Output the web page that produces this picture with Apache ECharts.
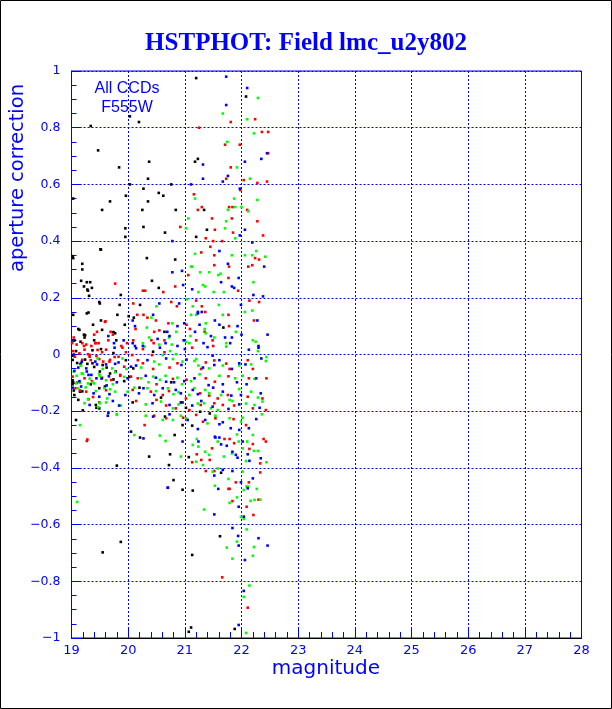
<!DOCTYPE html>
<html>
<head>
<meta charset="utf-8">
<script src="https://cdn.jsdelivr.net/npm/echarts@6/dist/echarts.min.js"></script>
<style>
html,body{margin:0;padding:0;background:#fff;}
#chart{width:612px;height:709px;}
</style>
</head>
<body>
<div id="chart"></div>
<script>
const titleText = "HSTPHOT: Field lmc_u2y802";
const xName = "magnitude";
const yName = "aperture correction";
const noteLines = ["All CCDs", "F555W"];
const xTicks = [19,20,21,22,23,24,25,26,27,28];
const yTicks = [-1,-0.8,-0.6,-0.4,-0.2,0,0.2,0.4,0.6,0.8,1];

const blackPts = [
[21.20,0.975],[22.08,0.91],[20.03,0.84],[20.19,0.82],[19.34,0.806],[19.47,0.72],[20.37,0.68],[21.23,0.69],[21.18,0.68],[19.84,0.66],[20.35,0.62],[20.03,0.60],[20.76,0.60],[19.96,0.56],[20.27,0.585],[20.54,0.57],[20.62,0.56],[19.03,0.55],[19.68,0.54],[20.35,0.54],[21.34,0.51],[20.25,0.51],[19.54,0.51],[20.84,0.51],[19.95,0.445],[20.27,0.45],[20.65,0.43],[21.39,0.44],[19.95,0.415],[21.20,0.415],[19.52,0.37],[20.33,0.34],[20.83,0.335],[19.03,0.34],[19.19,0.32],[19.19,0.30],[19.17,0.26],[19.33,0.255],[20.42,0.26],[19.22,0.24],[19.36,0.235],[20.54,0.235],[19.29,0.225],[19.87,0.21],[19.50,0.18],[19.85,0.175],[20.21,0.175],[19.03,0.14],[19.27,0.145],[20.01,0.135],[19.52,0.12],[20.10,0.13],[19.38,0.105],[19.94,0.105],[20.64,0.08],[21.68,0.095],[19.77,0.075],[19.12,0.09],[19.22,0.07],[19.04,0.05],[19.23,0.06],[19.40,0.05],[19.79,0.05],[19.14,0.087],[19.54,0.087],[19.74,0.079],[19.05,0.05],[19.16,0.045],
[19.51,0.371],[19.02,0.347],[19.27,0.255],[19.28,0.229],[19.31,0.207],[19.49,0.185],[19.30,0.148],[19.81,0.14],[19.24,0.068],
[19.08,0.012],[19.37,0.015],[19.52,0.019],[19.74,0.005],[20.44,0.01],[19.02,-0.004],[19.96,-0.02],[20.09,-0.049],[19.55,-0.037],[19.24,-0.018],[19.37,-0.031],[19.03,-0.098],[19.34,-0.105],[20.02,-0.079],[19.93,-0.094],[20.76,-0.098],[19.15,-0.131],[19.05,-0.143],[19.49,-0.119],[20.20,-0.117],[20.58,-0.152],[19.49,-0.19],[19.43,-0.178],[20.08,-0.169],[20.93,-0.169],[21.02,-0.188],[19.20,-0.197],
[19.02,-0.019],[19.10,-0.03],[19.16,-0.033],[19.28,-0.033],[19.40,-0.044],[19.50,-0.06],[19.62,-0.046],[19.78,-0.06],[19.02,-0.091],[19.02,-0.105],[19.04,-0.127],[19.19,-0.13],[19.12,-0.16],[19.44,-0.188],[19.59,-0.113],[19.68,-0.067],[19.74,-0.088],
[19.08,-0.231],[20.05,-0.272],[20.21,-0.293],[20.65,-0.219],[20.82,-0.284],[20.96,-0.249],[21.13,-0.251],[21.27,-0.202],[21.44,-0.208],[20.37,-0.36],[20.74,-0.352],[19.80,-0.392],[20.72,-0.39],[21.07,-0.362],[20.80,-0.443],[21.64,-0.417],[20.70,-0.47],
[20.96,-0.477],[21.14,-0.48],[21.62,-0.641],[19.87,-0.661],[19.55,-0.698],[21.13,-0.707],[21.11,-0.963],[21.07,-0.978],[21.88,-0.968]
];

const redPts = [
[22.24,0.83],[21.81,0.82],[21.25,0.80],[22.36,0.785],[22.47,0.785],[21.71,0.74],[21.97,0.74],[22.47,0.71],[21.81,0.66],[21.73,0.62],[22.04,0.615],[22.28,0.605],[22.45,0.61],[21.98,0.58],[21.16,0.565],[21.30,0.52],[21.23,0.51],[21.84,0.52],[21.78,0.52],[22.10,0.51],[21.48,0.48],[21.83,0.48],[22.28,0.47],[20.92,0.45],[21.53,0.44],[21.37,0.41],[21.85,0.43],[22.38,0.42],[21.50,0.40],[21.66,0.40],[21.45,0.38],[21.29,0.36],[21.52,0.35],[22.24,0.34],[22.31,0.335],[21.52,0.315],[21.78,0.31],[22.12,0.31],[22.19,0.315],[21.06,0.28],[21.77,0.27],[19.77,0.25],[20.83,0.24],[20.26,0.225],[20.30,0.225],[20.62,0.22],[21.94,0.225],[20.09,0.18],[20.76,0.185],[20.86,0.17],[21.20,0.19],[21.30,0.17],[22.14,0.19],[22.31,0.185],[20.16,0.14],[20.27,0.14],[20.34,0.13],[21.36,0.15],[21.77,0.14],[22.22,0.12],[20.49,0.12],[20.71,0.11],[21.03,0.105],[21.78,0.10],[19.59,0.115],[20.13,0.09],[20.46,0.08],[20.55,0.085],[21.09,0.09],[21.35,0.08],[19.69,0.08],[19.73,0.07],[19.98,0.04],[20.09,0.05],[20.41,0.05],[20.64,0.05],[21.20,0.05],[21.49,0.05],[19.04,0.06],[19.40,0.07],[19.22,0.03],[19.35,0.03],[19.43,0.04],[19.48,0.04],[19.65,0.05],[19.88,0.03],[20.45,0.04],[21.50,0.03],[19.60,0.117],[19.45,0.08],
[19.01,0.04],[19.09,0.035],[19.19,0.04],[19.26,0.035],[19.42,0.04],
[19.06,-0.008],[19.19,-0.019],[19.32,-0.002],[19.44,-0.005],[19.56,-0.025],[19.68,-0.019],[19.83,-0.008],[19.10,-0.099],[19.15,-0.127],[19.30,-0.158],[19.38,-0.15],[19.28,-0.30],
[19.14,0.004],[19.23,0.017],[19.46,0.016],[19.54,0.008],[19.61,0.017],[19.90,0.024],[19.96,0.008],[20.26,0.019],[20.42,-0.002],[20.64,0.008],[21.13,0.024],[19.03,0.012],[19.29,0.001],[19.32,-0.008],[19.76,-0.009],[20.07,-0.002],
[19.34,-0.02],[19.49,-0.016],[19.67,-0.025],[19.86,-0.072],[19.93,-0.043],[20.17,-0.02],[20.26,-0.031],[20.44,-0.051],[20.73,-0.046],[20.87,-0.031],[21.37,-0.028],[21.52,-0.021],[21.79,-0.051],[22.11,-0.02],[22.20,-0.051],[21.29,-0.051],[21.73,-0.032],
[19.02,-0.078],[19.23,-0.084],[19.36,-0.094],[19.54,-0.082],[19.70,-0.09],[19.86,-0.075],[20.05,-0.078],[20.17,-0.084],[20.50,-0.105],[20.79,-0.086],[21.03,-0.089],[21.37,-0.084],[21.53,-0.096],[21.77,-0.077],[22.13,-0.084],[22.44,-0.084],
[19.07,-0.119],[19.26,-0.131],[19.61,-0.126],[20.08,-0.125],[20.40,-0.131],[20.61,-0.143],[20.72,-0.129],[21.02,-0.155],[21.27,-0.137],[21.43,-0.145],[21.58,-0.155],[21.76,-0.143],[22.11,-0.149],[22.37,-0.155],
[19.49,-0.169],[20.14,-0.164],[20.50,-0.16],[20.67,-0.18],[20.84,-0.19],[21.08,-0.196],[21.28,-0.178],[21.52,-0.172],[21.67,-0.178],[21.87,-0.18],[22.20,-0.19],[22.43,-0.196],
[20.29,-0.249],[20.46,-0.216],[20.67,-0.225],[20.97,-0.223],[21.20,-0.213],[21.32,-0.237],[21.54,-0.225],[21.70,-0.298],[21.86,-0.228],[22.08,-0.249],[22.39,-0.298],[19.27,-0.305],[21.13,-0.38],[21.21,-0.352],[21.48,-0.331],[21.79,-0.298],[21.87,-0.313],[22.20,-0.316],[22.43,-0.307],[22.14,-0.333],[22.33,-0.384],[21.44,-0.372],[21.29,-0.372],
[21.37,-0.411],[21.52,-0.411],[21.77,-0.474],[21.90,-0.451],[22.13,-0.451],[22.33,-0.416],
[21.79,-0.474],[21.84,-0.517],[22.09,-0.537],[22.30,-0.512],[22.21,-0.566],[21.66,-0.786],[22.11,-0.893]
];

const greenPts = [
[22.29,0.905],[21.67,0.85],[22.10,0.83],[22.22,0.78],[21.75,0.75],[21.92,0.66],[22.15,0.62],[21.18,0.55],[21.87,0.55],[22.28,0.545],[21.76,0.51],[21.89,0.52],[22.00,0.52],[21.06,0.48],[21.73,0.47],[22.12,0.505],[21.02,0.445],[21.71,0.445],[21.89,0.41],[22.26,0.365],[21.18,0.355],[21.83,0.35],[22.06,0.35],[22.19,0.35],[22.42,0.345],[21.11,0.31],[21.13,0.31],[21.27,0.29],[21.43,0.29],[21.59,0.28],[21.63,0.285],[21.32,0.245],[21.36,0.24],[22.21,0.255],[21.24,0.22],[21.51,0.22],[21.69,0.22],[20.50,0.17],[21.04,0.195],[21.14,0.17],[21.60,0.175],[22.06,0.15],[22.19,0.155],[20.41,0.13],[21.11,0.14],[21.20,0.14],[21.67,0.14],[20.78,0.11],[21.37,0.11],[21.35,0.09],[20.33,0.095],[20.85,0.08],[21.10,0.065],[21.37,0.075],[21.90,0.08],[20.37,0.06],[20.72,0.06],[21.02,0.045],[21.08,0.04],[21.52,0.06],[21.73,0.04],[22.20,0.05],[22.25,0.045],[20.26,0.04],[20.55,0.035],[20.77,0.035],
[20.29,0.028],[20.74,0.012],[20.61,-0.002],[20.84,0.001],[21.20,-0.016],[21.73,0.028],[22.44,-0.009],[22.29,0.012],
[19.17,-0.039],[19.46,-0.014],[19.55,-0.051],[19.72,-0.049],[19.90,-0.014],[19.97,-0.051],[20.23,-0.046],[20.46,-0.025],[20.55,-0.035],[20.79,-0.016],[20.96,-0.025],[21.17,-0.023],[21.24,-0.039],[21.43,-0.049],[21.67,-0.039],[21.96,-0.039],[22.17,-0.035],[22.43,-0.023],
[19.08,-0.102],[19.20,-0.068],[19.37,-0.098],[19.49,-0.07],[19.77,-0.063],[19.93,-0.079],[20.23,-0.084],[20.36,-0.098],[20.44,-0.078],[20.56,-0.089],[20.66,-0.075],[20.87,-0.082],[20.95,-0.105],[21.11,-0.094],[21.26,-0.07],[21.61,-0.075],[21.89,-0.084],[22.02,-0.075],[22.23,-0.086],
[19.11,-0.119],[19.29,-0.157],[19.43,-0.129],[19.58,-0.119],[19.77,-0.131],[19.99,-0.131],[20.11,-0.117],[20.34,-0.119],[20.49,-0.129],[20.70,-0.119],[20.80,-0.14],[20.89,-0.133],[21.08,-0.143],[21.17,-0.119],[21.36,-0.125],[21.43,-0.137],[21.64,-0.143],[21.79,-0.16],[21.96,-0.122],[22.17,-0.131],[22.29,-0.152],
[19.23,-0.172],[19.61,-0.169],[19.87,-0.18],[20.31,-0.176],[20.58,-0.166],[20.79,-0.19],[20.89,-0.176],[21.23,-0.173],[21.34,-0.172],[21.46,-0.19],[21.58,-0.196],[21.84,-0.164],[22.08,-0.173],[22.23,-0.178],[22.37,-0.166],
[19.04,-0.06],[19.09,-0.075],[19.18,-0.067],[19.32,-0.085],[19.40,-0.102],[19.50,-0.075],[19.61,-0.091],[19.68,-0.123],[19.73,-0.105],[19.47,-0.186],[19.50,-0.172],[19.63,-0.155],[19.80,-0.21],[19.15,-0.099],[19.25,-0.116],[19.29,-0.102],[19.15,-0.249],
[19.80,-0.213],[20.11,-0.284],[20.31,-0.216],[20.56,-0.286],[20.61,-0.231],[20.79,-0.231],[20.93,-0.216],[21.02,-0.225],[21.21,-0.298],[21.40,-0.243],[21.54,-0.216],[21.79,-0.225],[21.92,-0.282],[21.99,-0.237],[22.02,-0.223],[22.10,-0.307],[22.20,-0.284],[22.36,-0.211],
[20.66,-0.305],[20.93,-0.36],[21.14,-0.319],[21.24,-0.325],[21.36,-0.343],[21.43,-0.354],[21.58,-0.307],[21.69,-0.36],[21.83,-0.349],[21.95,-0.307],[22.02,-0.331],[22.08,-0.376],[22.22,-0.34],[22.29,-0.34],[22.44,-0.38],[21.32,-0.39],[21.20,-0.378],
[21.49,-0.413],[21.58,-0.402],[21.77,-0.439],[22.02,-0.413],[22.11,-0.466],[22.27,-0.474],
[21.53,-0.463],[22.04,-0.478],[22.09,-0.465],[21.92,-0.504],[21.79,-0.523],[22.16,-0.516],[22.23,-0.513],[22.33,-0.512],[19.10,-0.52],[21.34,-0.547],[21.99,-0.573],[22.04,-0.58],[22.09,-0.617],[21.92,-0.66],[21.74,-0.681],[22.22,-0.679],[22.20,-0.71],[21.84,-0.72],[22.14,-0.815],[22.04,-0.855],[22.08,-0.982]
];

const bluePts = [
[21.73,0.98],[22.10,0.94],[21.73,0.88],[22.45,0.71],[22.35,0.69],[21.32,0.67],[22.06,0.68],[21.32,0.62],[21.76,0.63],[21.67,0.61],[21.11,0.60],[21.97,0.585],[22.06,0.44],[21.97,0.42],[20.78,0.40],[22.19,0.395],[21.61,0.365],[21.76,0.32],[22.40,0.31],[20.95,0.295],[20.78,0.29],[21.95,0.27],[21.64,0.255],[20.97,0.245],[21.13,0.23],[21.83,0.24],[21.87,0.235],[22.21,0.21],[22.38,0.205],[20.55,0.18],[20.90,0.18],[21.23,0.15],[21.30,0.15],[21.99,0.175],[20.44,0.14],[21.23,0.145],[22.28,0.12],[20.08,0.12],[20.99,0.11],[20.87,0.10],[21.26,0.105],[21.53,0.12],[21.61,0.105],[21.93,0.10],[20.12,0.10],[20.69,0.08],[20.73,0.065],[21.18,0.08],[21.46,0.065],[21.71,0.06],[21.83,0.06],[22.00,0.07],[22.46,0.07],[19.92,0.05],[20.08,0.04],[20.52,0.055],[20.98,0.05],[21.33,0.04],[20.12,0.03],[20.26,0.03],[20.66,0.04],[20.87,0.03],[21.80,0.04],[22.30,0.03],[19.65,0.065],[19.02,0.05],[19.75,0.04],
[19.76,0.024],[20.14,0.022],[20.56,0.024],[21.00,0.019],[21.40,0.026],[21.49,-0.004],[22.13,0.017],[22.30,0.024],
[19.05,-0.058],[19.26,-0.049],[19.42,-0.025],[19.61,-0.035],[19.83,-0.028],[20.05,-0.043],[20.14,-0.039],[20.34,-0.02],[20.67,-0.014],[20.94,-0.037],[21.03,-0.018],[21.32,-0.046],[21.61,-0.02],[21.83,-0.051],[21.96,-0.031],[22.07,-0.035],[22.35,-0.014],[21.52,-0.037],
[19.14,-0.094],[19.30,-0.072],[19.44,-0.084],[19.66,-0.077],[19.80,-0.098],[19.99,-0.084],[20.31,-0.075],[20.49,-0.082],[20.67,-0.096],[20.81,-0.098],[20.99,-0.094],[21.17,-0.084],[21.42,-0.108],[21.67,-0.105],[21.92,-0.098],[22.09,-0.105],[22.26,-0.084],
[19.02,-0.117],[19.17,-0.113],[19.39,-0.137],[19.49,-0.149],[19.67,-0.14],[19.95,-0.143],[20.19,-0.137],[20.27,-0.119],[20.46,-0.143],[20.61,-0.119],[20.84,-0.125],[20.93,-0.137],[21.14,-0.125],[21.23,-0.14],[21.50,-0.117],[21.67,-0.131],[21.82,-0.145],[21.99,-0.143],[22.34,-0.137],
[19.32,-0.178],[19.73,-0.164],[19.84,-0.18],[20.43,-0.172],[20.73,-0.178],[20.96,-0.169],[21.13,-0.18],[21.29,-0.164],[21.49,-0.184],[21.77,-0.192],[21.96,-0.176],[22.32,-0.188],
[19.04,0.0],[19.12,-0.046],[19.18,-0.026],[19.27,-0.06],[19.35,-0.072],[19.45,-0.035],[19.53,-0.085],[19.62,-0.109],[19.77,-0.033],[19.65,-0.206],
[19.64,-0.216],[20.44,-0.219],[20.73,-0.211],[21.05,-0.231],[21.23,-0.263],[21.36,-0.231],[21.53,-0.29],[21.61,-0.246],[21.67,-0.239],[21.81,-0.26],[21.96,-0.266],[22.13,-0.26],[22.26,-0.228],
[20.27,-0.296],[20.96,-0.307],[21.24,-0.307],[21.54,-0.293],[21.64,-0.317],[21.74,-0.322],[21.84,-0.343],[21.90,-0.354],[21.93,-0.364],[22.02,-0.307],[22.11,-0.352],[22.14,-0.375],[22.34,-0.366],[21.61,-0.293],
[21.52,-0.427],[21.67,-0.407],[22.11,-0.472],[22.20,-0.437],[21.99,-0.451],[21.84,-0.411],
[20.70,-0.47],[21.59,-0.474],[21.95,-0.537],[21.52,-0.564],[22.04,-0.572],[21.84,-0.612],[21.94,-0.64],[22.30,-0.648],[21.95,-0.674],[22.46,-0.674],[22.06,-0.725],[22.04,-0.834],[21.95,-0.954]
];

const BLUE = '#0000ff';
const labelFont = '"DejaVu Sans", "Liberation Sans", sans-serif';
const fmt = v => {
  let s = (Math.round(v*10)/10).toString();
  return s.replace('-', '\u2212');
};

const chart = echarts.init(document.getElementById('chart'), null, {renderer:'canvas'});
function sc(name, data, color) {
  return {
    type:'scatter', name, data, symbol:'rect', symbolSize:[2.6,2.6],
    itemStyle:{color, opacity:1}, silent:true, animation:false
  };
}
chart.setOption({
  animation:false,
  backgroundColor:'#ffffff',
  title:{
    text:titleText, left:'center', top:26,
    textStyle:{fontFamily:'"Liberation Serif", "Times New Roman", serif', fontWeight:'bold', fontSize:25, color:BLUE}
  },
  grid:{left:71.5, right:30.5, top:71, bottom:71, show:true, borderColor:BLUE, borderWidth:1, backgroundColor:'transparent'},
  xAxis:{
    type:'value', min:xTicks[0], max:xTicks[xTicks.length-1], interval:1,
    axisLine:{show:true, onZero:false, lineStyle:{color:'#000000', width:1}},
    axisTick:{show:true, inside:true, length:10, lineStyle:{color:BLUE}},
    minorTick:{show:true, splitNumber:5, length:6, lineStyle:{color:BLUE}},
    splitLine:{show:true, lineStyle:{color:BLUE, type:[2,2], width:1}},
    axisLabel:{color:BLUE, fontFamily:labelFont, fontSize:13, margin:6, formatter:fmt}
  },
  yAxis:{
    type:'value', min:yTicks[0], max:yTicks[yTicks.length-1], interval:0.2,
    axisLine:{show:true, onZero:false, lineStyle:{color:BLUE, width:1}},
    axisTick:{show:true, inside:true, length:10, lineStyle:{color:BLUE}},
    minorTick:{show:true, splitNumber:4, length:5, lineStyle:{color:BLUE}},
    splitLine:{show:true, lineStyle:{color:BLUE, type:[2,2], width:1}},
    axisLabel:{color:BLUE, fontFamily:labelFont, fontSize:12.5, margin:11, formatter:fmt}
  },
  graphic:[
    {type:'rect', shape:{x:0.5,y:0.5,width:611,height:708}, style:{fill:null, stroke:'#000', lineWidth:1}, silent:true},
    {type:'text', x:380, y:669, style:{text:xName, fill:BLUE, font:'20px '+labelFont, textAlign:'right', textVerticalAlign:'middle'}},
    {type:'text', x:18, y:178, rotation:Math.PI/2, style:{text:yName, fill:BLUE, font:'19.5px '+labelFont, textAlign:'center', textVerticalAlign:'middle'}},
    {type:'text', x:127, y:89, style:{text:noteLines[0], fill:BLUE, font:'16px "Liberation Sans", sans-serif', textAlign:'center', textVerticalAlign:'middle'}},
    {type:'text', x:127, y:108, style:{text:noteLines[1], fill:BLUE, font:'16px "Liberation Sans", sans-serif', textAlign:'center', textVerticalAlign:'middle'}}
  ],
  series:[
    sc('black', blackPts, '#000000'),
    sc('red', redPts, '#ff0000'),
    sc('green', greenPts, '#00ff00'),
    sc('blue', bluePts, '#0000ff')
  ]
});
</script>
</body>
</html>
